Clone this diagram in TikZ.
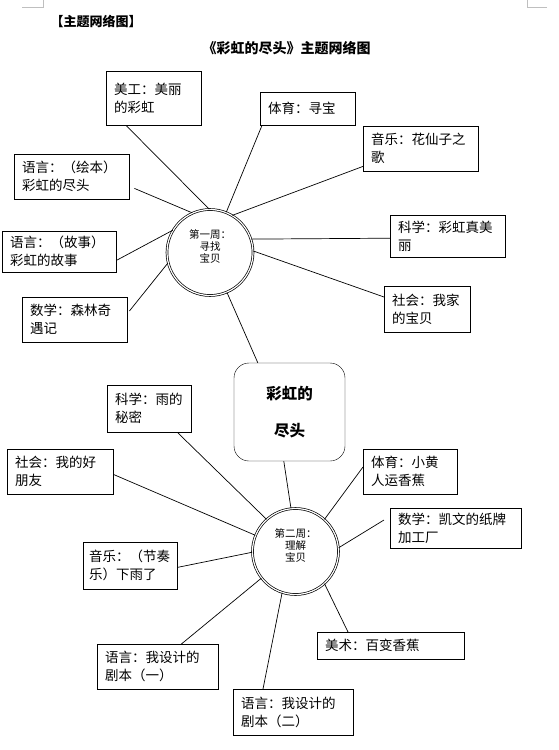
\documentclass[tikz,border=0pt]{standalone}
\usepackage{fontspec}
\setmainfont{Noto Sans CJK SC}
\begin{document}
\begin{tikzpicture}[x=1pt,y=-1pt,
  topic/.style={draw,anchor=north west,inner xsep=8pt,inner ysep=0pt,align=left,font=\fontsize{13.5}{18}\selectfont},
  week/.style={draw,circle,double,double distance=1.2pt,line width=0.7pt,minimum size=86pt},
  weektext/.style={font=\fontsize{10.5}{12}\selectfont,align=center,yshift=6pt},
  link/.style={line width=0.7pt}]
\useasboundingbox (0,0) rectangle (558,750);
% page corner marks
\draw[gray!50] (22,7) -- (43,7) -- (43,0);
\draw[gray!50] (547,7) -- (527,7) -- (527,0);
% headings
\node[anchor=west,font=\fontsize{13}{13}\selectfont\bfseries] (heading) at (47,21) {【主题网络图】};
\node[font=\fontsize{14}{14}\selectfont\bfseries] (title) at (286.5,48) {《彩虹的尽头》主题网络图};
% theme and weeks
\node[draw,rounded corners=15pt,minimum width=111pt,minimum height=98pt,align=center,
  font=\fontsize{15.5}{37}\selectfont\bfseries] (theme) at (289.5,412) {彩虹的\\尽头};
\node[week,label={[weektext]center:第一周：\\寻找\\宝贝}] (c1) at (210,252.5) {};
\node[week,label={[weektext]center:第二周：\\理解\\宝贝}] (c2) at (295.5,551.5) {};
% first week
\node[topic,text width=79pt,minimum height=54pt] (meigong) at (106,71) {美工：美丽\\的彩虹};
\node[topic,text width=79pt,minimum height=33pt] (tiyu1) at (260,92) {体育：寻宝};
\node[topic,text width=99pt,minimum height=45pt] (yinyue1) at (363,126) {音乐：花仙子之\\歌};
\node[topic,text width=99pt,minimum height=45pt] (yuyan1) at (14,154) {语言：（绘本）\\彩虹的尽头};
\node[topic,text width=98pt,minimum height=41pt] (yuyan2) at (2,231) {语言：（故事）\\彩虹的故事};
\node[topic,text width=89pt,minimum height=45pt] (shuxue1) at (22,297) {数学：森林奇\\遇记};
\node[topic,text width=99pt,minimum height=42pt] (kexue1) at (390,215) {科学：彩虹真美\\丽};
\node[topic,text width=70pt,minimum height=46pt] (shehui1) at (384,286) {社会：我家\\的宝贝};
% second week
\node[topic,text width=68pt,minimum height=47pt] (kexue2) at (107,385) {科学：雨的\\秘密};
\node[topic,text width=90pt,minimum height=45pt] (shehui2) at (7,449) {社会：我的好\\朋友};
\node[topic,text width=78pt,minimum height=45pt] (tiyu2) at (363,449) {体育：小黄\\人运香蕉};
\node[topic,text width=115pt,minimum height=40pt] (shuxue2) at (390,508) {数学：凯文的纸牌\\加工厂};
\node[topic,inner xsep=6pt,text width=82pt,minimum height=47pt] (yinyue2) at (83,542) {音乐：（节奏\\乐）下雨了};
\node[topic,text width=105pt,minimum height=45pt] (yuyan3) at (97,644) {语言：我设计的\\剧本（一）};
\node[topic,text width=131pt,minimum height=27pt] (meishu) at (317,632) {美术：百变香蕉};
\node[topic,text width=104pt,minimum height=46pt] (yuyan4) at (233,689) {语言：我设计的\\剧本（二）};
% links of the first week
\draw[link] ([xshift=20pt]meigong.south west) -- (c1.91);
\draw[link] ([xshift=2pt]tiyu1.south west) -- (c1.68);
\draw[link] ([yshift=5pt]yinyue1.south west) -- (c1.59);
\draw[link] ([xshift=5pt,yshift=11pt]yuyan1.south east) -- (c1.114);
\draw[link] ([yshift=12pt]yuyan2.south east) -- (c1.149);
\draw[link] ([xshift=2pt,yshift=-14pt]shuxue1.north east) -- (c1.194);
\draw[link] ([yshift=-2pt]kexue1.west) -- (c1.18);
\draw[link] ([yshift=-11pt]shehui1.north west) -- (c1.2);
\draw[link] (c1.-67) -- ([xshift=24pt]theme.north west);
% links of the second week
\draw[link] ([xshift=50pt]theme.south west) -- (c2.96);
\draw[link] ([xshift=-14pt]kexue2.south east) -- (c2.132);
\draw[link] ([yshift=20pt]shehui2.south east) -- (c2.158);
\draw[link] ([yshift=-18pt]tiyu2.north west) -- (c2.48);
\draw[link] ([xshift=-6pt,yshift=-12pt]shuxue2.north west) -- (c2.5);
\draw[link] ([yshift=22pt]yinyue2.south east) -- (c2.181);
\draw[link] ([xshift=-37pt]yuyan3.north east) -- (c2.218);
\draw[link] ([xshift=30pt]yuyan4.north west) -- (c2.252);
\draw[link] ([xshift=31pt]meishu.north west) -- (c2.-48);
\end{tikzpicture}
\end{document}
